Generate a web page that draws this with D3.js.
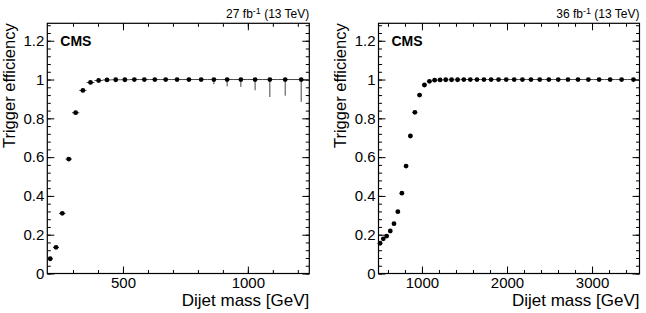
<!DOCTYPE html>
<html>
<head>
<meta charset="utf-8">
<script src="https://cdn.jsdelivr.net/npm/d3@7"></script>
<style>
  body { margin: 0; background: #fff; }
  text { font-family: "Liberation Sans", Arial, sans-serif; }
</style>
</head>
<body>
<div id="main"></div>
<script>

// dijet mass bin edges [GeV] and trigger efficiency per bin
var edges27 = [197, 220, 244, 270, 296, 325, 354, 386, 419, 453, 489, 526, 565, 606, 649, 693,
  740, 788, 838, 890, 944, 1000, 1058, 1118, 1181, 1246];
var eff27 = [0.076, 0.135, 0.31, 0.59, 0.829, 0.944, 0.985, 0.995, 0.998, 0.999, 0.999, 1, 1,
  1, 1, 1, 1, 1, 1, 1, 1, 1, 1, 1, 1];
var errDown27 = [0, 0, 0, 0, 0, 0, 0, 0, 0, 0, 0, 0, 0, 0, 0, 0, 0, 0,
  0.024, 0.035, 0.038, 0.055, 0.09, 0.083, 0.115];

var edges36 = [489, 526, 565, 606, 649, 693, 740, 788, 838, 890, 944, 1000, 1058, 1118, 1181,
  1246, 1313, 1383, 1455, 1530, 1607, 1687, 1770, 1856, 1945, 2037, 2132, 2231, 2332, 2438,
  2546, 2659, 2775, 2895, 3019, 3147, 3279, 3416, 3558];
var eff36 = [0.156, 0.179, 0.193, 0.219, 0.257, 0.319, 0.414, 0.554, 0.709, 0.831, 0.92, 0.972,
  0.991, 0.997, 0.998, 0.999, 0.999, 0.999, 1, 1, 1, 1, 1, 1, 1, 1, 1, 1, 1, 1, 1, 1, 1, 1,
  1, 1, 1, 1];
var errDown36 = [0, 0, 0, 0, 0, 0, 0, 0, 0, 0, 0, 0, 0, 0, 0, 0, 0, 0, 0, 0, 0, 0, 0, 0, 0,
  0, 0, 0, 0, 0, 0, 0, 0, 0, 0, 0, 0.004, 0.012];

var xMajor27 = [500, 1000];
var xMajor36 = [1000, 2000, 3000];
var yMajor = [0, 0.2, 0.4, 0.6, 0.8, 1, 1.2];

var width = 646, height = 313;
var yBottom = 273.5, yTop = 23.3;

var svg = d3.select('#main')
  .append('svg')
  .attr('width', width)
  .attr('height', height);

function drawPanel(p) {
  var x = d3.scaleLinear()
    .domain([p.edges[0], p.edges[p.edges.length - 1]])
    .range([p.left, p.right]);
  var y = d3.scaleLinear()
    .domain([0, 1.29])
    .range([yBottom, yTop]);

  var g = svg.append('g');

  var bins = d3.pairs(p.edges).map(function (e, i) {
    return { lo: e[0], hi: e[1], mid: (e[0] + e[1]) / 2, eff: p.eff[i], dn: p.errDown[i] };
  });

  var noDomain = function (s) { s.select('.domain').remove(); };

  // minor ticks (inside the frame, all four sides)
  g.append('g').attr('transform', 'translate(0,' + yBottom + ')')
    .call(d3.axisBottom(x).tickValues(p.xMinor).tickSize(-3.5).tickFormat(''))
    .call(noDomain);
  g.append('g').attr('transform', 'translate(0,' + yTop + ')')
    .call(d3.axisTop(x).tickValues(p.xMinor).tickSize(-3.5).tickFormat(''))
    .call(noDomain);
  g.append('g').attr('transform', 'translate(' + p.left + ',0)')
    .call(d3.axisLeft(y).tickValues(d3.range(0, 1.29, 0.04)).tickSize(-3.5).tickFormat(''))
    .call(noDomain);
  g.append('g').attr('transform', 'translate(' + p.right + ',0)')
    .call(d3.axisRight(y).tickValues(d3.range(0, 1.29, 0.04)).tickSize(-3.5).tickFormat(''))
    .call(noDomain);

  // major ticks
  g.append('g').attr('transform', 'translate(0,' + yBottom + ')')
    .call(d3.axisBottom(x).tickValues(p.xMajor).tickSize(-7).tickPadding(4).tickFormat(d3.format('d')))
    .call(noDomain);
  g.append('g').attr('transform', 'translate(0,' + yTop + ')')
    .call(d3.axisTop(x).tickValues(p.xMajor).tickSize(-7).tickFormat(''))
    .call(noDomain);
  g.append('g').attr('transform', 'translate(' + p.left + ',0)')
    .call(d3.axisLeft(y).tickValues(yMajor).tickSize(-7).tickPadding(3).tickFormat(d => String(d)))
    .call(noDomain);
  g.append('g').attr('transform', 'translate(' + p.right + ',0)')
    .call(d3.axisRight(y).tickValues(yMajor).tickSize(-7).tickFormat(''))
    .call(noDomain);

  g.selectAll('.tick text')
    .style('font-family', '"Liberation Sans", Arial, sans-serif')
    .style('font-size', '15px')
    .attr('fill', '#000');

  // frame
  g.append('rect')
    .attr('x', p.left)
    .attr('y', yTop)
    .attr('width', p.right - p.left)
    .attr('height', yBottom - yTop)
    .attr('fill', 'none')
    .attr('stroke', '#000')
    .attr('stroke-width', 1.2);

  // horizontal (bin width) error bars
  g.selectAll('.xerr').data(bins).enter()
    .append('line')
    .attr('class', 'xerr')
    .attr('x1', d => x(d.lo))
    .attr('x2', d => x(d.hi))
    .attr('y1', d => y(d.eff))
    .attr('y2', d => y(d.eff))
    .attr('stroke', '#444')
    .attr('stroke-width', 1);

  // vertical (lower) error bars
  g.selectAll('.yerr').data(bins.filter(d => d.dn > 0)).enter()
    .append('line')
    .attr('class', 'yerr')
    .attr('x1', d => x(d.mid))
    .attr('x2', d => x(d.mid))
    .attr('y1', d => y(d.eff))
    .attr('y2', d => y(d.eff - d.dn))
    .attr('stroke', '#444')
    .attr('stroke-width', 1);

  g.selectAll('.pt').data(bins).enter()
    .append('circle')
    .attr('class', 'pt')
    .attr('cx', d => x(d.mid))
    .attr('cy', d => y(d.eff))
    .attr('r', 2.4)
    .attr('fill', '#000');

  // labels
  g.append('text')
    .attr('x', p.left + 13)
    .attr('y', 45.7)
    .style('font-size', '14px')
    .style('font-weight', 'bold')
    .text('CMS');

  var lumi = g.append('text')
    .attr('x', p.right)
    .attr('y', 18.3)
    .attr('text-anchor', 'end')
    .style('font-size', '12px');
  lumi.append('tspan').text(p.lumi + ' fb');
  lumi.append('tspan').attr('dy', -4.5).style('font-size', '9px').text('-1');
  lumi.append('tspan').attr('dy', 4.5).text(' (13 TeV)');

  g.append('text')
    .attr('transform', 'translate(' + (p.left - 32.8) + ',' + yTop + ') rotate(-90)')
    .attr('text-anchor', 'end')
    .style('font-size', '16.5px')
    .text('Trigger efficiency');

  g.append('text')
    .attr('x', p.right)
    .attr('y', 306)
    .attr('text-anchor', 'end')
    .style('font-size', '17px')
    .text('Dijet mass [GeV]');
}

drawPanel({
  left: 47.3, right: 309.3,
  edges: edges27, eff: eff27, errDown: errDown27,
  xMajor: xMajor27, xMinor: d3.range(300, 1201, 100),
  lumi: 27
});

drawPanel({
  left: 378.5, right: 639.5,
  edges: edges36, eff: eff36, errDown: errDown36,
  xMajor: xMajor36, xMinor: d3.range(600, 3501, 200),
  lumi: 36
});

</script>
</body>
</html>
